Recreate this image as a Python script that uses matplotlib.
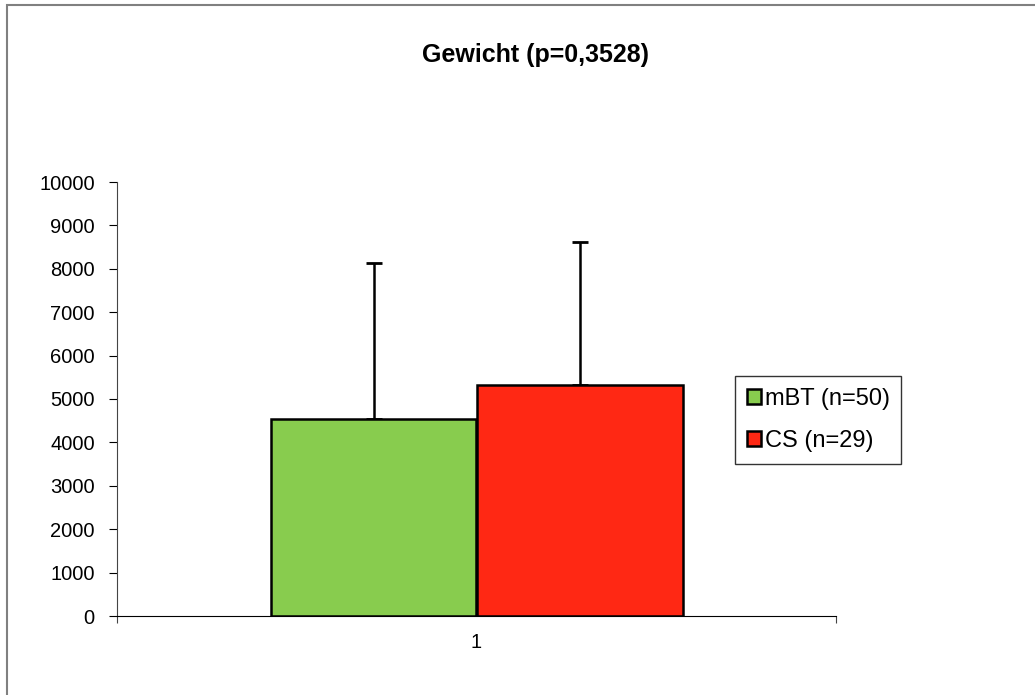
import matplotlib
matplotlib.use('Agg')
import matplotlib.pyplot as plt
from matplotlib.patches import Rectangle
import numpy as np

# data
groups = ['mBT (n=50)', 'CS (n=29)']
means = [4550, 5320]
sd_up = [3580, 3300]
colors = ['#88cc4e', '#ff2814']
category = '1'
title = 'Gewicht (p=0,3528)'

plt.rcParams['font.family'] = ['Liberation Sans', 'DejaVu Sans']

fig = plt.figure(figsize=(10.35, 6.95), dpi=100)
ax = fig.add_axes([117/1035, 1-616/695, 719/1035, 434/695])

w = 206/719
xs = [1 - w/2, 1 + w/2]
for x, m, e, c, g in zip(xs, means, sd_up, colors, groups):
    ax.bar(x, m, width=w, color=c, edgecolor='black', linewidth=1.8, label=g, zorder=2)
    ax.errorbar(x, m, yerr=[[0], [e]], fmt='none', ecolor='black', elinewidth=1.8,
                capsize=6, capthick=2, zorder=1)

ax.set_xlim(0.5, 1.5)
ax.set_ylim(0, 10000)
ax.set_yticks(np.arange(0, 10001, 1000))
ax.set_xticks([0.5, 1.5])
ax.set_xticklabels(['', ''])
ax.set_xticks([1], minor=True)
ax.set_xticklabels([category], minor=True)
ax.tick_params(axis='x', which='minor', length=0, pad=12, labelsize=14.5)
ax.tick_params(axis='x', which='major', length=5, direction='out', color='#444444')
ax.tick_params(axis='y', length=6, direction='out', labelsize=14.5, pad=10)
for s in ['top', 'right']:
    ax.spines[s].set_visible(False)
ax.spines['left'].set_color('#444444')
ax.spines['bottom'].set_color('black')

fig.text(536/1035, 1-55/695, title, ha='center', va='center', fontsize=18, fontweight='bold')

leg = ax.legend(loc='upper left', bbox_to_anchor=((735-117)/719, (616-376)/434),
                fontsize=17, frameon=True, fancybox=False, edgecolor='black',
                handlelength=0.6, handleheight=0.6, handletextpad=0.15,
                borderpad=0.5, labelspacing=0.85, borderaxespad=0)
leg.get_frame().set_linewidth(1.0)

# outer chart border (left and top visible)
fig.patches.append(Rectangle((7/1035, -0.1), 1.2, 1-5/695+0.1, transform=fig.transFigure,
                             fill=False, edgecolor='#808080', linewidth=1.5))

fig.savefig('out.png', dpi=100, facecolor='white')
